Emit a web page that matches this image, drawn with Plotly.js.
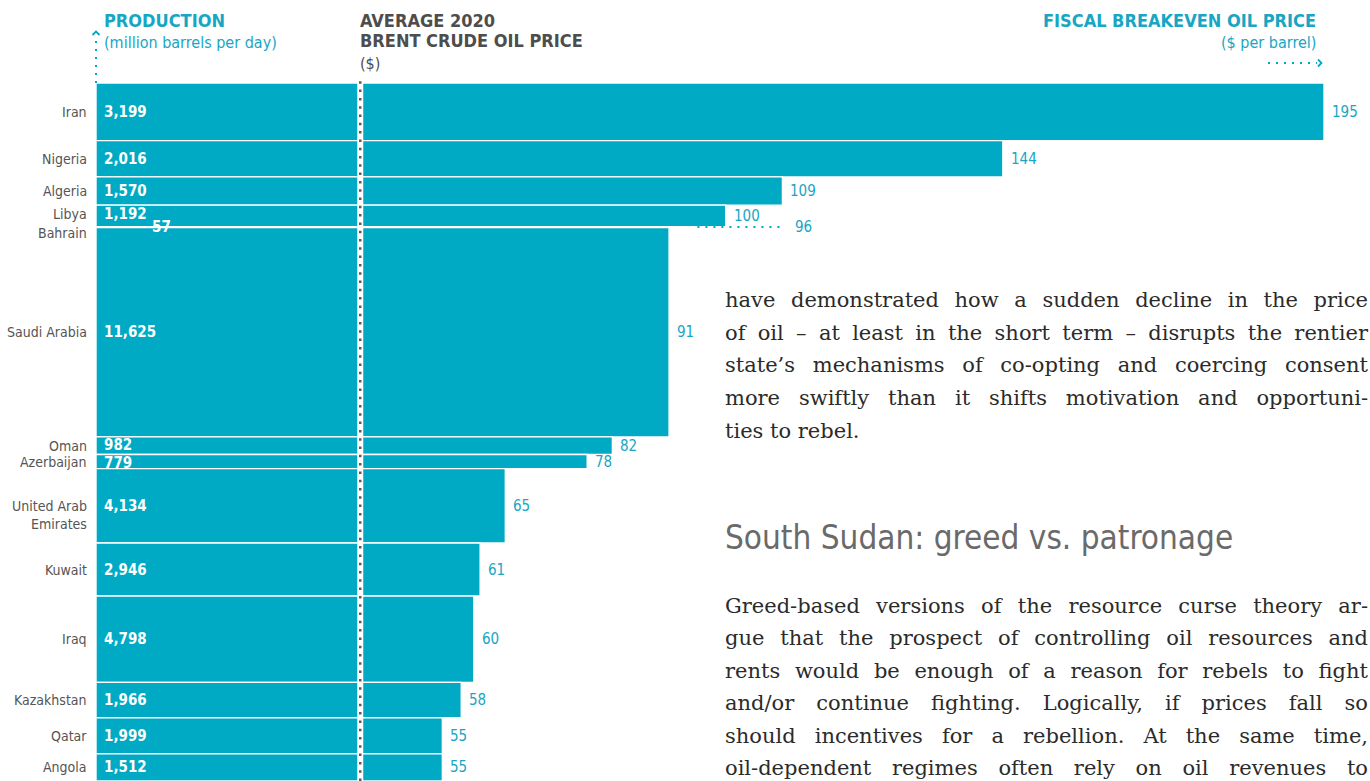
<!DOCTYPE html>
<html><head><meta charset="utf-8">
<script src="https://cdn.plot.ly/plotly-3.0.1.min.js"></script>
<style>html,body{margin:0;padding:0;background:#fff;overflow:hidden}#chart{width:1370px;height:781px}</style>
</head><body><div id="chart"></div>
<script>
// ---------- data ----------
const countries = ['Iran','Nigeria','Algeria','Libya','Bahrain','Saudi Arabia','Oman','Azerbaijan','United Arab<br>Emirates','Kuwait','Iraq','Kazakhstan','Qatar','Angola'];
const production = [3199,2016,1570,1192,57,11625,982,779,4134,2946,4798,1966,1999,1512]; // thousand barrels per day
const breakeven = [195,144,109,100,96,91,82,78,65,61,60,58,55,55]; // $ per barrel
const brentAvg2020 = 41.96; // $

const paragraph1 = [
  'have demonstrated how a sudden decline in the price',
  'of oil \u2013 at least in the short term \u2013 disrupts the rentier',
  'state\u2019s mechanisms of co-opting and coercing consent',
  'more swiftly than it shifts motivation and opportuni-',
  'ties to rebel.'
];
const sectionHeading = 'South Sudan: greed vs. patronage';
const paragraph2 = [
  'Greed-based versions of the resource curse theory ar-',
  'gue that the prospect of controlling oil resources and',
  'rents would be enough of a reason for rebels to fight',
  'and/or continue fighting. Logically, if prices fall so',
  'should incentives for a rebellion. At the same time,',
  'oil-dependent regimes often rely on oil revenues to'
];

// ---------- layout helpers ----------
const W = 1370, H = 781, ML = 96, MR = 0, MT = 83, MB = 0;
const XMAX = 202.3;
const plotW = W - ML - MR, plotH = H - MT - MB;
const ppu = plotW / XMAX;
const PX = x => (x - ML) / plotW;
const PY = y => 1 - (y - MT) / plotH;

const TEAL = '#00AAC4', TEALTXT = '#17A6C4', GREY = '#555555';
const NARROW = "'Liberation Sans Narrow','DejaVu Sans Condensed','Roboto Condensed',Roboto,sans-serif";
const SERIF = "'DejaVu Serif','Liberation Serif',serif";

// cumulative stacking of production along the y axis
const centers = [];
let acc = 0;
production.forEach(p => { centers.push(acc + p / 2); acc += p; });
const total = acc;

const labelShift = { 'Libya': 1.5, 'Bahrain': -6, 'United Arab<br>Emirates': -9 };
const prodShiftX = { 'Bahrain': 54 };
const prodShiftY = { 'Libya': 2, 'Oman': 1, 'Azerbaijan': -1 };
const priceShiftX = { 'Bahrain': 92 };

const fmt = v => v.toLocaleString('en-US');

const annotations = [];
countries.forEach((c, i) => {
  annotations.push({ x: 0, y: centers[i], xref: 'x', yref: 'y', xanchor: 'right', yanchor: 'middle', align: 'right',
    xshift: -7, yshift: labelShift[c] || 0, text: c, showarrow: false,
    font: { family: NARROW, size: 14, color: GREY } });
  annotations.push({ x: 0, y: centers[i], xref: 'x', yref: 'y', xanchor: 'left', yanchor: 'middle',
    xshift: prodShiftX[c] || 6, yshift: prodShiftY[c] || 0, text: '<b>' + fmt(production[i]) + '</b>', showarrow: false,
    font: { family: NARROW, size: 15, color: '#ffffff' } });
  annotations.push({ x: breakeven[i], y: centers[i], xref: 'x', yref: 'y', xanchor: 'left', yanchor: 'middle',
    xshift: priceShiftX[c] || 6, text: String(breakeven[i]), showarrow: false,
    font: { family: NARROW, size: 15, color: TEALTXT } });
});

function txt(text, x, y, opts) {
  annotations.push(Object.assign({ x: PX(x), y: PY(y), xref: 'paper', yref: 'paper', xanchor: 'left', yanchor: 'middle',
    align: 'left', text: text, showarrow: false, font: { family: NARROW, size: 17, color: TEALTXT } }, opts || {}));
}
// headers
txt('<b>PRODUCTION</b>', 102, 20, { font: { family: NARROW, size: 18, color: TEALTXT } });
txt('(million barrels per day)', 102, 42, { font: { family: NARROW, size: 16, color: TEALTXT } });
txt('<b>AVERAGE 2020</b>', 358, 20, { font: { family: NARROW, size: 18, color: '#4d4d4d' } });
txt('<b>BRENT CRUDE OIL PRICE</b>', 358, 41, { font: { family: NARROW, size: 18, color: '#4d4d4d' } });
txt('($)', 358, 63, { font: { family: NARROW, size: 16, color: '#4d4d4d' } });
txt('<b>FISCAL BREAKEVEN OIL PRICE</b>', 1318, 20, { xanchor: 'right', align: 'right', font: { family: NARROW, size: 18, color: TEALTXT } });
txt('($ per barrel)', 1318, 42, { xanchor: 'right', align: 'right', font: { family: NARROW, size: 16, color: TEALTXT } });

// body text
const justifyIdx = [];
const BODY_L = 723, BODY_W = 643;
const BODY_FONT = { family: SERIF, size: 21, color: '#2b2b2b' };
paragraph1.forEach((line, i) => {
  if (i < paragraph1.length - 1) justifyIdx.push(annotations.length);
  txt(line, BODY_L, 300 + i * 32.7, { font: BODY_FONT });
});
txt(sectionHeading, BODY_L, 537, { font: { family: NARROW, size: 33, color: '#6a6a6a' } });
paragraph2.forEach((line, i) => {
  justifyIdx.push(annotations.length);
  txt(line, BODY_L, 606 + i * 32.4, { font: BODY_FONT });
});

// shapes
const bi = countries.indexOf('Bahrain');
const shapes = [
  // Brent average line: white channel + dotted line
  { type: 'line', xref: 'x', yref: 'paper', x0: brentAvg2020, x1: brentAvg2020, y0: 0, y1: 1,
    line: { color: '#ffffff', width: 6 }, layer: 'above' },
  { type: 'line', xref: 'x', yref: 'paper', x0: brentAvg2020, x1: brentAvg2020, y0: 0, y1: 1.004,
    line: { color: '#5a5a5a', width: 2.5, dash: '2.5px,5.8px' }, layer: 'above' },
  // Bahrain leader
  { type: 'line', xref: 'x', yref: 'y', x0: breakeven[bi] - 0.5, x1: breakeven[bi] + 84 / ppu, y0: centers[bi], y1: centers[bi],
    line: { color: TEAL, width: 2, dash: '2px,6px' }, layer: 'above' },
  // vertical arrow (production)
  { type: 'line', xref: 'paper', yref: 'paper', x0: 0, x1: 0, y0: PY(83), y1: PY(36),
    line: { color: TEAL, width: 2, dash: '2px,6px' } },
  { type: 'path', xref: 'paper', yref: 'paper',
    path: `M ${PX(92.5)},${PY(35)} L ${PX(96)},${PY(31.5)} L ${PX(99.5)},${PY(35)}`,
    line: { color: TEAL, width: 1.8 } },
  // horizontal arrow (breakeven)
  { type: 'line', xref: 'paper', yref: 'paper', x0: PX(1268), x1: PX(1317), y0: PY(63), y1: PY(63),
    line: { color: TEAL, width: 2, dash: '2px,6px' } },
  { type: 'path', xref: 'paper', yref: 'paper',
    path: `M ${PX(1318)},${PY(59.5)} L ${PX(1321.5)},${PY(63)} L ${PX(1318)},${PY(66.5)}`,
    line: { color: TEAL, width: 1.8 } }
];

const trace = {
  type: 'bar', orientation: 'h', x: breakeven, y: centers, width: production,
  marker: { color: TEAL, line: { color: '#ffffff', width: 1.4 } },
  hoverinfo: 'skip', showlegend: false
};

const layout = {
  width: W, height: H, margin: { l: ML, r: MR, t: MT, b: MB, pad: 0 },
  paper_bgcolor: '#ffffff', plot_bgcolor: '#ffffff',
  xaxis: { range: [0, XMAX], visible: false, fixedrange: true },
  yaxis: { range: [total, 0], visible: false, fixedrange: true },
  bargap: 0, showlegend: false, annotations: annotations, shapes: shapes
};

Plotly.newPlot('chart', [trace], layout, { staticPlot: true, displayModeBar: false }).then(() => {
  justifyIdx.forEach(idx => {
    const t = document.querySelector(`g.annotation[data-index="${idx}"] text.annotation-text`);
    if (!t) return;
    const w = t.getComputedTextLength();
    const n = (t.textContent.match(/ /g) || []).length;
    if (n > 0) t.style.wordSpacing = ((BODY_W - w) / n) + 'px';
  });
});
</script></body></html>
